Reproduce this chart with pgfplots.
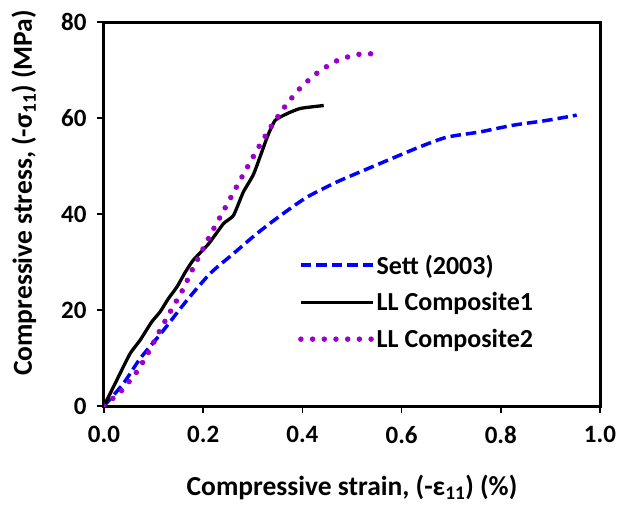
\documentclass[border=0pt]{standalone}
\usepackage{fontspec}
\setmainfont{Carlito}
\usepackage{pgfplots}
\pgfplotsset{compat=1.18}
\definecolor{sett}{RGB}{0,0,255}
\definecolor{llpurple}{RGB}{153,0,204}
\begin{document}
\begin{tikzpicture}
\begin{axis}[
    scale only axis,
    width=496bp, height=384bp,
    xmin=0, xmax=1, ymin=0, ymax=80,
    xtick={0,0.2,...,1.0}, ytick={0,20,...,80},
    xticklabel style={/pgf/number format/fixed, /pgf/number format/fixed zerofill,
        /pgf/number format/precision=1, yshift=-10bp},
    /pgf/number format/assume math mode=true,
    axis line style={line width=3bp},
    tick style={line width=1.5bp, black},
    tick align=outside, major tick length=7bp,
    xtick pos=bottom, ytick pos=left,
    ticklabel style={font=\bfseries\fontsize{25bp}{29bp}\selectfont},
    yticklabel style={xshift=-7bp},
    xlabel={Compressive strain, (-ε\textsubscript{11}) (\%)},
    ylabel={Compressive stress, (-σ\textsubscript{11}) (MPa)},
    label style={font=\bfseries\fontsize{27.5bp}{31bp}\selectfont},
    xlabel style={yshift=-24bp},
    ylabel style={at={(ticklabel cs:0.555)}, yshift=18bp},
    legend style={draw=none, fill=none, at={(0.391,0.397)}, anchor=north west,
        inner sep=0pt, nodes={inner sep=1bp},
        font=\bfseries\fontsize{26bp}{30bp}\selectfont, row sep=15bp},
    legend cell align=left,
    legend image code/.code={\draw[#1] (0bp,0bp) -- (72bp,0bp);},
]
\addplot[sett, line width=3.5bp, dash pattern=on 10.5bp off 5bp, smooth, tension=0.4] coordinates {
(0,0) (0.039,4.67) (0.073,9.9) (0.117,15.4) (0.167,22.0) (0.214,27.6)
(0.261,31.75) (0.308,35.9) (0.356,39.7) (0.409,43.5) (0.470,46.7)
(0.524,49.1) (0.556,50.5) (0.637,54.0) (0.691,56.0) (0.758,57.1)
(0.825,58.5) (0.893,59.5) (0.953,60.6)};
\addlegendentry{Sett (2003)}
\addplot[black, line width=3.3bp, smooth, tension=0.3] coordinates {
(0,0) (0.0256,5.35) (0.0525,10.9) (0.0727,13.7) (0.096,17.5) (0.113,19.6)
(0.130,22.4) (0.147,24.8) (0.164,27.9) (0.180,30.4) (0.211,33.8)
(0.241,38.0) (0.261,39.7) (0.281,44.6) (0.302,48.4) (0.329,56.0)
(0.345,59.5) (0.369,60.9) (0.396,62.0) (0.443,62.6)};
\addlegendentry{LL Composite1}
\addplot[llpurple, line width=5.5bp, line cap=round, dash pattern=on 0bp off 11.7bp, smooth, tension=0.4] coordinates {
(0,0) (0.019,1.67) (0.036,3.27) (0.066,7.1) (0.090,11.25) (0.112,15.6)
(0.135,19.9) (0.159,24.25) (0.179,28.6) (0.201,33.0) (0.223,37.3)
(0.246,41.6) (0.269,46.0) (0.292,50.3) (0.315,54.5) (0.340,58.7)
(0.367,62.7) (0.398,66.5) (0.434,69.7) (0.475,72.2) (0.521,73.4)
(0.545,73.3)};
\addlegendentry{LL Composite2}
\end{axis}
\pgfresetboundingbox
\path[use as bounding box] ([xshift=-104bp,yshift=-98.3bp]current axis.south west)
    rectangle ([xshift=18bp,yshift=22bp]current axis.north east);
\end{tikzpicture}
\end{document}
